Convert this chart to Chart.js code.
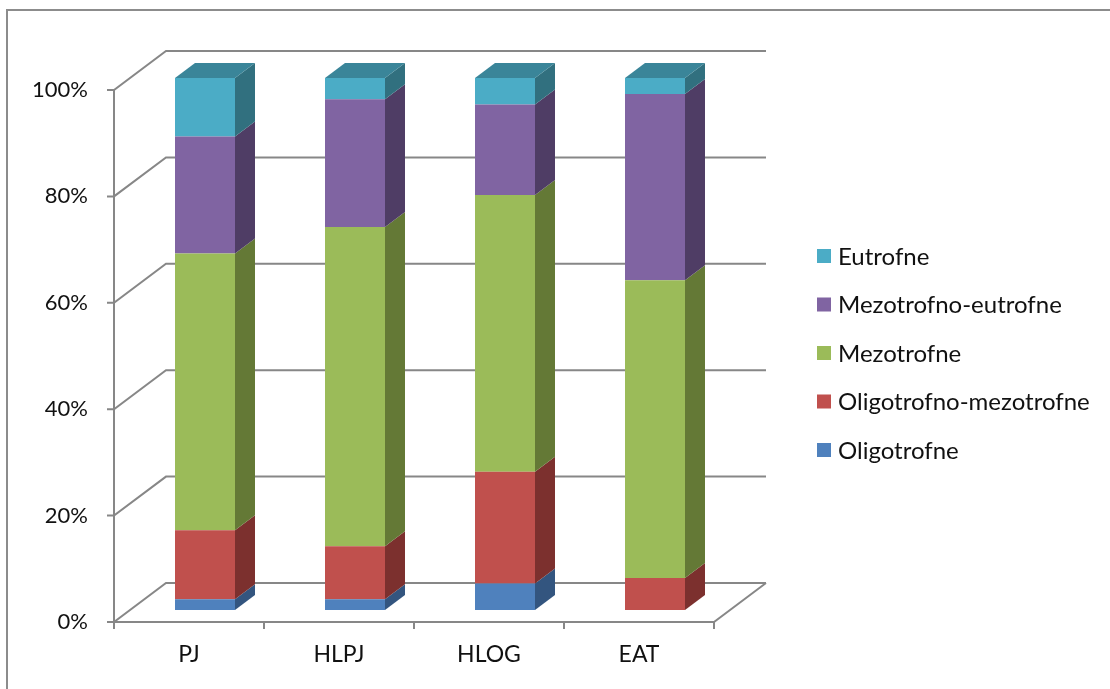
<!DOCTYPE html>
<html>
<head>
<meta charset="utf-8">
<script src="https://cdn.jsdelivr.net/npm/chart.js@4/dist/chart.umd.min.js"></script>
<style>
  html, body { margin: 0; padding: 0; background: #fff; }
  #wrap { position: relative; width: 1110px; height: 689px; overflow: hidden; }
  #frame { position: absolute; left: 6px; top: 9px; right: -10px; bottom: -10px; border-left: 2px solid #8c8c8c; border-top: 2px solid #8c8c8c; }
  canvas { position: absolute; left: 0; top: 0; }
</style>
</head>
<body>
<div id="wrap">
  <div id="frame"></div>
  <canvas id="chart" width="1110" height="689"></canvas>
</div>
<script>
// data (percent of each group)
const categories = ['PJ', 'HLPJ', 'HLOG', 'EAT'];
const oligotrofne = [2, 2, 5, 0];
const oligoMezotrofne = [13, 10, 21, 6];
const mezotrofne = [52, 60, 52, 56];
const mezoEutrofne = [22, 24, 17, 35];
const eutrofne = [11, 4, 5, 3];
const yTicks = [0, 20, 40, 60, 80, 100];

// front / side / top colours per series
const fronts = ['#4F81BD', '#C0504D', '#9BBB59', '#8064A2', '#4BACC6'];
const sides = ['#33557F', '#7C302E', '#647936', '#4F3D65', '#31707F'];
const tops = ['#3D6698', '#9A3F3C', '#7D9747', '#654F81', '#3A8599'];

const DEPTH = { x: 20, y: -15 };   // bar depth
const FRONT = { x: -16, y: 12 };   // front (axis) plane
const BACK = { x: 36, y: -27 };    // back wall
const AXIS = '#878787';
const TEXT = '#111111';

const walls = {
    id: 'walls',
    beforeDatasetsDraw(chart) {
        const { ctx, chartArea: a, scales: { x, y } } = chart;
        ctx.save();
        ctx.strokeStyle = AXIS;
        ctx.lineWidth = 2;
        ctx.beginPath();
        yTicks.forEach(v => {
            const py = y.getPixelForValue(v);
            ctx.moveTo(a.left + FRONT.x - 7, py + FRONT.y);
            ctx.lineTo(a.left + FRONT.x, py + FRONT.y);
            ctx.lineTo(a.left + BACK.x, py + BACK.y);
            ctx.lineTo(a.right + BACK.x, py + BACK.y);
        });
        const y0 = y.getPixelForValue(0);
        const y1 = y.getPixelForValue(100);
        ctx.moveTo(a.left + FRONT.x, y1 + FRONT.y);
        ctx.lineTo(a.left + FRONT.x, y0 + FRONT.y);
        ctx.lineTo(a.right + FRONT.x, y0 + FRONT.y);
        ctx.lineTo(a.right + BACK.x, y0 + BACK.y);
        const step = (a.right - a.left) / categories.length;
        for (let i = 0; i <= categories.length; i++) {
            const px = a.left + FRONT.x + i * step;
            ctx.moveTo(px, y0 + FRONT.y);
            ctx.lineTo(px, y0 + FRONT.y + 7);
        }
        ctx.stroke();
        ctx.restore();
    },
    afterDatasetsDraw(chart) {
        const { ctx } = chart;
        const n = chart.data.datasets.length;
        ctx.save();
        chart.data.datasets.forEach((ds, di) => {
            chart.getDatasetMeta(di).data.forEach((bar, i) => {
                const p = bar.getProps(['x', 'y', 'base', 'width'], true);
                const top = Math.min(p.y, p.base), bottom = Math.max(p.y, p.base);
                if (bottom - top < 0.5) return;
                const left = p.x - p.width / 2, right = p.x + p.width / 2;
                // side face
                ctx.fillStyle = sides[di];
                ctx.beginPath();
                ctx.moveTo(right, top);
                ctx.lineTo(right + DEPTH.x, top + DEPTH.y);
                ctx.lineTo(right + DEPTH.x, bottom + DEPTH.y);
                ctx.lineTo(right, bottom);
                ctx.closePath();
                ctx.fill();
                // top face on the highest non-empty segment
                let last = -1;
                for (let k = 0; k < n; k++) if (chart.data.datasets[k].data[i] > 0) last = k;
                if (last === di) {
                    ctx.fillStyle = tops[di];
                    ctx.beginPath();
                    ctx.moveTo(left, top);
                    ctx.lineTo(left + DEPTH.x, top + DEPTH.y);
                    ctx.lineTo(right + DEPTH.x, top + DEPTH.y);
                    ctx.lineTo(right, top);
                    ctx.closePath();
                    ctx.fill();
                }
            });
        });
        ctx.restore();
    },
    afterDraw(chart) {
        // legend, top series first
        const { ctx, chartArea: a } = chart;
        const items = chart.data.datasets.map((ds, i) => ({ label: ds.label, color: fronts[i] })).reverse();
        ctx.save();
        ctx.font = '24px Lato';
        ctx.textBaseline = 'middle';
        items.forEach((it, k) => {
            const cy = 256 + k * 48.5;
            const lx = a.right + 87;
            ctx.fillStyle = it.color;
            ctx.fillRect(lx, cy - 7, 14, 14);
            ctx.fillStyle = TEXT;
            ctx.fillText(it.label, lx + 21, cy + 1);
        });
        ctx.restore();
    }
};

const series = [
    ['Oligotrofne', oligotrofne],
    ['Oligotrofno-mezotrofne', oligoMezotrofne],
    ['Mezotrofne', mezotrofne],
    ['Mezotrofno-eutrofne', mezoEutrofne],
    ['Eutrofne', eutrofne],
];

new Chart(document.getElementById('chart'), {
    type: 'bar',
    data: {
        labels: categories,
        datasets: series.map(([label, data], i) => ({
            label,
            data,
            backgroundColor: fronts[i],
            borderWidth: 0,
            categoryPercentage: 1,
            barPercentage: 0.4,
        })),
    },
    options: {
        responsive: false,
        animation: false,
        layout: { padding: { left: 0, right: 380, top: 78, bottom: 0 } },
        plugins: { legend: { display: false }, tooltip: { enabled: false } },
        scales: {
            x: {
                stacked: true,
                grid: { display: false, drawTicks: false },
                border: { display: false },
                ticks: { font: { family: 'Lato', size: 23 }, color: TEXT, padding: 31, labelOffset: -16, maxRotation: 0, autoSkip: false },
                afterFit: s => { s.height = 79; },
            },
            y: {
                stacked: true,
                min: 0,
                max: 100,
                grid: { display: false, drawTicks: false },
                border: { display: false },
                ticks: { stepSize: 20, font: { family: 'Lato', size: 22 }, color: TEXT, padding: 42, labelOffset: 12, callback: v => v + '%' },
                afterFit: s => { s.width = 130; },
            },
        },
    },
    plugins: [walls],
});
</script>
</body>
</html>
